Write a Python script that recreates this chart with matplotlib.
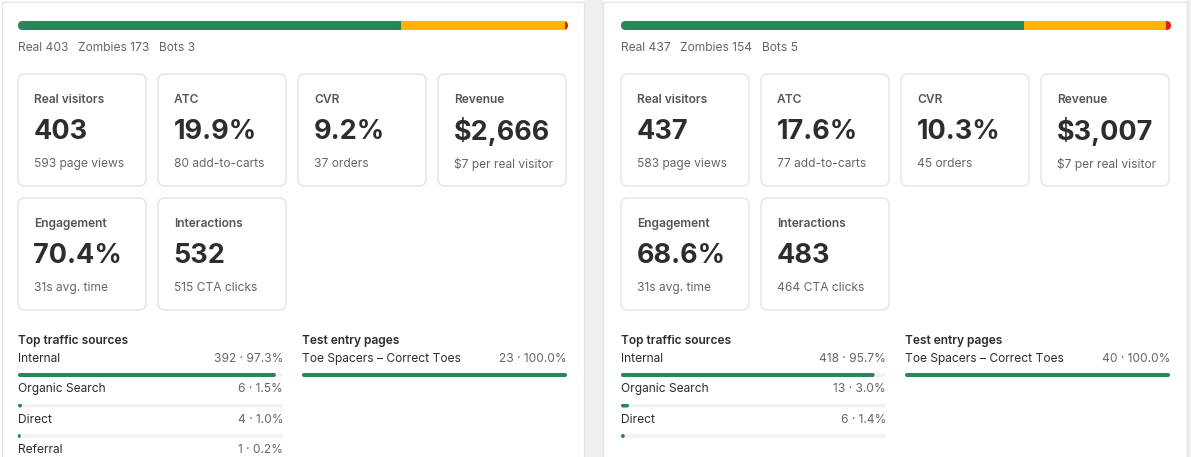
import matplotlib
matplotlib.use("Agg")
import matplotlib.pyplot as plt
from matplotlib.patches import FancyBboxPatch, Rectangle
import numpy as np

# ---------------- data ----------------
mix_labels = ['Real', 'Zombies', 'Bots']
mix_a = [403, 173, 3]
mix_b = [437, 154, 5]

card_titles = ['Real visitors', 'ATC', 'CVR', 'Revenue', 'Engagement', 'Interactions']
card_values_a = ['403', '19.9%', '9.2%', '$2,666', '70.4%', '532']
card_subs_a = ['593 page views', '80 add-to-carts', '37 orders', '$7 per real visitor',
               '31s avg. time', '515 CTA clicks']
card_values_b = ['437', '17.6%', '10.3%', '$3,007', '68.6%', '483']
card_subs_b = ['583 page views', '77 add-to-carts', '45 orders', '$7 per real visitor',
               '31s avg. time', '464 CTA clicks']

source_names_a = ['Internal', 'Organic Search', 'Direct', 'Referral']
source_counts_a = [392, 6, 4, 1]
source_pcts_a = [97.3, 1.5, 1.0, 0.2]
source_names_b = ['Internal', 'Organic Search', 'Direct']
source_counts_b = [418, 13, 6]
source_pcts_b = [95.7, 3.0, 1.4]

entry_names = ['Toe Spacers – Correct Toes']
entry_counts_a = [23]
entry_pcts_a = [100.0]
entry_counts_b = [40]
entry_pcts_b = [100.0]

# ---------------- style ----------------
GREEN = '#2b8559'
YELLOW = '#ffb400'
RED = '#e3200c'
TRACK = '#f3f3f3'
BORDER = '#e4e4e4'
GAP = '#efefef'
DARK = '#2d2d2d'
MID = '#555555'
GREY = '#666666'
FONT = ['Inter', 'DejaVu Sans']
DY = 1.8  # vertical text offset (px) to match baseline placement

W, H = 1191, 457
fig = plt.figure(figsize=(W / 100, H / 100), dpi=100)
fig.patch.set_facecolor('white')
ax = fig.add_axes([0, 0, 1, 1])
ax.set_xlim(0, W)
ax.set_ylim(H, 0)
ax.axis('off')
renderer = fig.canvas.get_renderer()


def pt(px):
    return px * 0.72


def txt(x, y, s, size, color, weight='normal', ha='left'):
    return ax.text(x, y + DY, s, fontsize=pt(size), color=color, fontweight=weight,
                   ha=ha, va='center', family=FONT)


def rounded_clip(patch, radius):
    x, y = patch.get_x(), patch.get_y()
    w, h = patch.get_width(), patch.get_height()
    r = min(radius, abs(w) / 2, abs(h) / 2)
    clip = FancyBboxPatch((x, y), w, h, boxstyle=f"round,pad=0,rounding_size={r}",
                          transform=ax.transData, facecolor='none', edgecolor='none')
    patch.set_clip_path(clip)


# background gap between panels and at right edge
ax.add_patch(Rectangle((584, 0), 19, H, facecolor=GAP, edgecolor='none', zorder=0))
ax.add_patch(Rectangle((1187, 0), 10, H, facecolor=GAP, edgecolor='none', zorder=0))
for (px0, px1) in [(2, 584), (603, 1187)]:
    ax.plot([px0, px0, px1, px1], [H + 5, 2, 2, H + 5], color=BORDER, lw=1, zorder=1,
            solid_joinstyle='miter')


def draw_panel(x0, mix, values, subs, s_names, s_counts, s_pcts, e_names, e_counts, e_pcts):
    # stacked visitor-mix bar
    bx, bw, by, bh = x0 + 18, 550, 21, 9
    total = float(sum(mix))
    widths = np.array(mix) / total * bw
    lefts = bx + np.concatenate([[0], np.cumsum(widths)[:-1]])
    bars = ax.barh([by + bh / 2] * 3, widths, left=lefts, height=bh,
                   color=[GREEN, YELLOW, RED], edgecolor='none', zorder=3)
    track = FancyBboxPatch((bx, by), bw, bh, boxstyle="round,pad=0,rounding_size=4.5",
                           transform=ax.transData, facecolor='none', edgecolor='none')
    for b in bars:
        b.set_clip_path(track)

    # mix labels
    xx = bx
    for lab, v in zip(mix_labels, mix):
        t = txt(xx, 46, f"{lab} {v}", 12, GREY)
        bb = t.get_window_extent(renderer)
        xx += bb.width + 9.5

    # cards
    for i, (title, val, sub) in enumerate(zip(card_titles, values, subs)):
        row, col = divmod(i, 4)
        cx = x0 + 18 + col * 140
        cy = 74 + row * 124
        ax.add_patch(FancyBboxPatch((cx, cy), 128, 112,
                                    boxstyle="round,pad=0,rounding_size=7",
                                    facecolor='white', edgecolor=BORDER, lw=1, zorder=2))
        txt(cx + 16, cy + 24, title, 12, MID, weight='semibold')
        txt(cx + 15.5, cy + 56, val, 27, DARK, weight='bold')
        txt(cx + 16, cy + 88, sub, 12, GREY)

    # top traffic sources
    sx, sw = x0 + 18, 265
    txt(sx, 339, 'Top traffic sources', 12, DARK, weight='semibold')
    ys = 357 + np.arange(len(s_names)) * 30.5
    for name, c, p, y in zip(s_names, s_counts, s_pcts, ys):
        txt(sx, y, name, 12, DARK)
        txt(sx + sw, y, f"{c} · {p:.1f}%", 12, GREY, ha='right')
    tr = ax.barh(ys + 18, [sw] * len(ys), left=sx, height=4, color=TRACK,
                 edgecolor='none', zorder=3)
    fl = ax.barh(ys + 18, np.maximum(np.array(s_pcts) / 100 * sw, 2.5), left=sx, height=4,
                 color=GREEN, edgecolor='none', zorder=4)
    for b in list(tr) + list(fl):
        rounded_clip(b, 2)

    # test entry pages
    ex, ew = x0 + 302, 265
    txt(ex, 339, 'Test entry pages', 12, DARK, weight='semibold')
    eys = 357 + np.arange(len(e_names)) * 30.5
    for name, c, p, y in zip(e_names, e_counts, e_pcts, eys):
        txt(ex, y, name, 12, DARK)
        txt(ex + ew, y, f"{c} · {p:.1f}%", 12, GREY, ha='right')
    tr = ax.barh(eys + 18, [ew] * len(eys), left=ex, height=4, color=TRACK,
                 edgecolor='none', zorder=3)
    fl = ax.barh(eys + 18, np.array(e_pcts) / 100 * ew, left=ex, height=4,
                 color=GREEN, edgecolor='none', zorder=4)
    for b in list(tr) + list(fl):
        rounded_clip(b, 2)


draw_panel(0, mix_a, card_values_a, card_subs_a, source_names_a, source_counts_a,
           source_pcts_a, entry_names, entry_counts_a, entry_pcts_a)
draw_panel(603, mix_b, card_values_b, card_subs_b, source_names_b, source_counts_b,
           source_pcts_b, entry_names, entry_counts_b, entry_pcts_b)

fig.savefig('out.png', dpi=100, facecolor='white')
